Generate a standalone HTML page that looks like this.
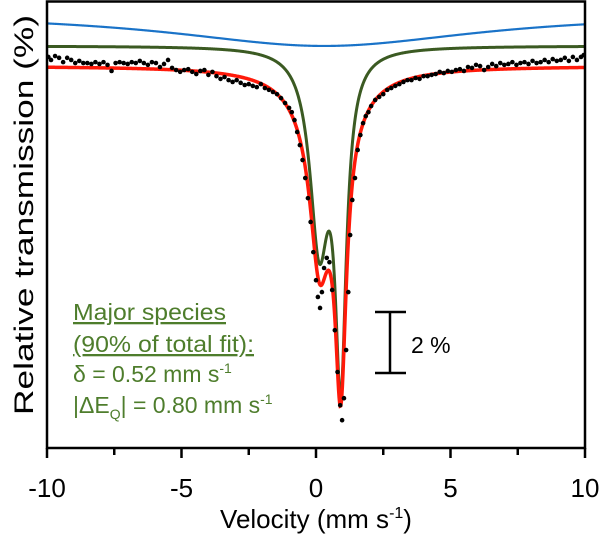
<!DOCTYPE html>
<html><head><meta charset="utf-8"><style>
html,body{margin:0;padding:0;background:#fff;}
svg{display:block;font-family:"Liberation Sans",sans-serif;}
</style></head><body>
<svg id="chart" width="600" height="534" viewBox="0 0 600 534" xmlns="http://www.w3.org/2000/svg">
<g id="curves"></g>
<g id="points"></g>
<rect x="47" y="1.5" width="538" height="446.5" fill="none" stroke="#000" stroke-width="2.5"/>
<g id="xticks"></g>
<text x="316" y="528" font-size="26" text-anchor="middle">Velocity (mm s<tspan dy="-10" font-size="16">-1</tspan><tspan dy="10">)</tspan></text>
<text transform="translate(33,215) rotate(-90)" font-size="27" text-anchor="middle" textLength="400" lengthAdjust="spacingAndGlyphs">Relative transmission (%)</text>
<g stroke="#000" stroke-width="2.5">
<line x1="390" y1="312" x2="390" y2="373"/><line x1="375" y1="312" x2="406" y2="312"/><line x1="375" y1="373" x2="406" y2="373"/>
</g>
<text x="411" y="353" font-size="23">2 %</text>
<g fill="#4e7d2c" font-size="23">
<text x="73" y="320" textLength="153" lengthAdjust="spacingAndGlyphs" text-decoration="underline">Major species</text>
<text x="73" y="352" textLength="181" lengthAdjust="spacingAndGlyphs" text-decoration="underline">(90% of total fit):</text>
<text x="73" y="382">δ = 0.52 mm s<tspan dy="-9" font-size="14">-1</tspan></text>
<text x="73" y="413">|ΔE<tspan dy="6" font-size="14">Q</tspan><tspan dy="-6">| = 0.80 mm s</tspan><tspan dy="-9" font-size="14">-1</tspan></text>
</g>
</svg>
<script>
const xTicks = [-10, -5, 0, 5, 10];
const xMinorTicks = [-7.5, -2.5, 2.5, 7.5];
const dataV = [-9.95,-9.85,-9.7,-9.55,-9.4,-9.25,-9.1,-8.95,-8.8,-8.65,-8.5,-8.35,-8.2,-8.05,-7.9,-7.75,-7.6,-7.45,-7.3,-7.15,-7.0,-6.85,-6.7,-6.55,-6.4,-6.25,-6.1,-5.95,-5.8,-5.65,-5.5,-5.35,-5.2,-5.05,-4.9,-4.75,-4.6,-4.45,-4.3,-4.15,-4.0,-3.85,-3.7,-3.55,-3.4,-3.25,-3.1,-2.95,-2.8,-2.65,-2.5,-2.35,-2.2,-2.05,-1.9,-1.75,-1.6,-1.45,-1.3,-1.15,-1.0,-0.9,-0.8,-0.7,-0.6,-0.5,-0.4,-0.3,-0.2,-0.1,0.0,0.07,0.15,0.22,0.3,0.4,0.5,0.6,0.7,0.8,0.9,0.97,1.04,1.12,1.2,1.27,1.35,1.45,1.55,1.65,1.75,1.85,1.95,2.05,2.2,2.35,2.5,2.65,2.8,2.95,3.1,3.25,3.4,3.55,3.7,3.85,4.0,4.15,4.3,4.45,4.6,4.75,4.9,5.05,5.2,5.35,5.5,5.65,5.8,5.95,6.1,6.25,6.4,6.55,6.7,6.85,7.0,7.15,7.3,7.45,7.6,7.75,7.9,8.05,8.2,8.35,8.5,8.65,8.8,8.95,9.1,9.25,9.4,9.55,9.7,9.85,9.95];
const dataT = [100.33,100.23,100.36,100.30,100.16,100.30,100.23,100.13,100.20,100.13,100.13,100.10,100.16,100.10,100.16,100.07,99.87,100.13,100.16,100.13,100.10,100.16,100.13,100.20,100.13,100.07,100.16,100.13,100.00,100.10,100.23,99.97,99.90,99.84,99.90,99.93,99.84,99.77,99.87,99.90,99.74,99.84,99.70,99.61,99.67,99.57,99.51,99.57,99.48,99.41,99.44,99.38,99.34,99.44,99.31,99.25,99.18,99.11,98.98,98.82,98.66,98.52,98.26,97.87,97.44,96.95,96.36,95.70,94.92,93.93,93.01,92.46,92.10,92.62,93.41,93.74,93.60,92.69,91.37,90.00,88.91,88.42,89.14,90.72,92.62,94.49,95.64,96.36,97.28,97.77,98.16,98.39,98.52,98.72,98.92,99.02,99.11,99.25,99.31,99.38,99.44,99.51,99.57,99.57,99.64,99.61,99.70,99.70,99.74,99.77,99.84,99.80,99.87,99.84,99.90,99.93,99.87,100.00,99.97,100.07,100.03,99.90,100.00,100.10,100.03,100.13,100.07,100.10,100.16,100.07,100.13,100.16,100.10,100.20,100.13,100.16,100.23,100.16,100.26,100.20,100.23,100.30,100.20,100.33,100.23,100.33,100.39];
// fit model parameters: baseline %, line centers, depths %, half-widths
const redBase = 100.03;
const redCenters = [0.12, 0.92, 0.5, 0.5];
const redDepths = [4.56, 8.39, 1.64, 0.39];
const redWidths = [0.42, 0.25, 1.0, 1.8];
const greenBase = 100.69;
const greenCenters = [0.12, 0.92];
const greenDepths = [6.23, 10.16];
const greenWidths = [0.42, 0.25];
const blueBase = 101.77;
const blueCenters = [0.3];
const blueDepths = [1.08];
const blueWidths = [7];

const X0 = 47, X1 = 585;
function xs(v){ return X0 + (v + 10) / 20 * (X1 - X0); }
function ys(t){ return 67 + (100 - t) * 30.5; }
function model(v, base, c, d, w){
  let t = base;
  for (let i = 0; i < c.length; i++) t -= d[i] * w[i] * w[i] / ((v - c[i]) * (v - c[i]) + w[i] * w[i]);
  return t;
}
const NS = 'http://www.w3.org/2000/svg';
const curves = document.getElementById('curves');
function drawCurve(name, base, c, d, w, color, sw){
  let pts = [];
  for (let i = 0; i <= 1000; i++){
    const v = -10 + 20 * i / 1000;
    pts.push(xs(v).toFixed(2) + ',' + ys(model(v, base, c, d, w)).toFixed(2));
  }
  const p = document.createElementNS(NS, 'polyline');
  p.setAttribute('points', pts.join(' '));
  p.setAttribute('fill', 'none');
  p.setAttribute('stroke', color);
  p.setAttribute('stroke-width', sw);
  
  
  curves.appendChild(p);
}
drawCurve('background-fit-line', blueBase, blueCenters, blueDepths, blueWidths, '#1a73c8', 2.2);
drawCurve('major-species-fit-line', greenBase, greenCenters, greenDepths, greenWidths, '#3b5a22', 3);
drawCurve('total-fit-line', redBase, redCenters, redDepths, redWidths, '#ff1a0a', 3.5);
const pg = document.getElementById('points');
for (let i = 0; i < dataV.length; i++){
  const c = document.createElementNS(NS, 'circle');
  c.setAttribute('cx', xs(dataV[i]).toFixed(2));
  c.setAttribute('cy', ys(dataT[i]).toFixed(2));
  c.setAttribute('r', 2.3);
  c.setAttribute('fill', '#000');
  
  
  pg.appendChild(c);
}
const xt = document.getElementById('xticks');
xTicks.forEach(t => {
  const l = document.createElementNS(NS, 'line');
  l.setAttribute('x1', xs(t)); l.setAttribute('x2', xs(t));
  l.setAttribute('y1', 448); l.setAttribute('y2', 458);
  l.setAttribute('stroke', '#000'); l.setAttribute('stroke-width', 2.5);
  
  
  xt.appendChild(l);
  const tx = document.createElementNS(NS, 'text');
  tx.setAttribute('x', xs(t)); tx.setAttribute('y', 497);
  tx.setAttribute('font-size', 26); tx.setAttribute('text-anchor', 'middle');
  tx.textContent = t;
  
  
  xt.appendChild(tx);
});
xMinorTicks.forEach(t => {
  const l = document.createElementNS(NS, 'line');
  l.setAttribute('x1', xs(t)); l.setAttribute('x2', xs(t));
  l.setAttribute('y1', 448); l.setAttribute('y2', 455);
  l.setAttribute('stroke', '#000'); l.setAttribute('stroke-width', 2.5);
  
  
  xt.appendChild(l);
});
</script>
</body></html>
